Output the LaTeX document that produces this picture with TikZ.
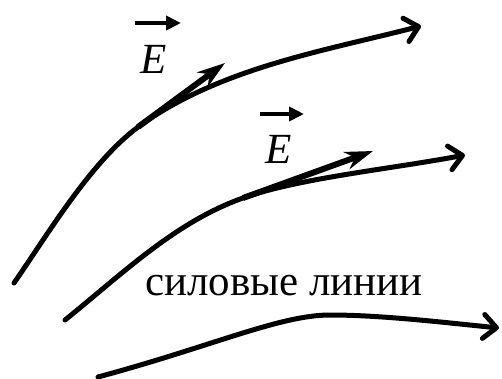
\documentclass[tikz,border=0pt]{standalone}
\usepackage{fontspec}
\setmainfont{Liberation Serif}
\usetikzlibrary{arrows.meta, calc}

\begin{document}
\begin{tikzpicture}[
    x=1pt, y=-1pt,
    fieldline/.style={line width=5pt, line cap=round, -{Straight Barb[length=13pt, width=24pt, round]}},
    tangent/.style={line width=6pt, -{Stealth[length=28pt, width=18pt, inset=9pt]}},
    overarr/.style={line width=4.6pt, -{Triangle[length=15pt, width=14pt]}},
    vlabel/.style={font=\fontsize{43}{48}\selectfont\itshape, inner sep=0pt, anchor=base},
    caption/.style={font=\fontsize{43}{48}\selectfont, inner sep=0pt, anchor=base}
]
    \useasboundingbox (0,0) rectangle (502,378);

    % Tangent points
    \coordinate (t1s) at (138,127);
    \coordinate (t1e) at (225,63);
    \coordinate (t2s) at (243,198);
    \coordinate (t2e) at (373,151);

    % Field lines
    \draw[fieldline] (14,283) .. controls (48,234) and (90,163) .. (t1s)
        .. controls (219,68) and (324,51) .. (421,26);
    \draw[fieldline] (65,320) .. controls (121,275) and (175,222) .. (t2s)
        .. controls (299,178) and (391,169) .. (465,155);
    \draw[fieldline] (98,377) .. controls (213,346) and (280,315) .. (330,315)
        .. controls (380,315) and (440,322) .. (499,328);

    % Tangent vectors
    \draw[tangent] (t1s) -- (t1e);
    \draw[tangent] (t2s) -- (t2e);

    % Vector labels
    \node[vlabel] (E1) at (154,73) {E};
    \node[vlabel] (E2) at (279,163) {E};
    \draw[overarr] ($(E1.base)+(-19,-50)$) -- ++(46,0);
    \draw[overarr] ($(E2.base)+(-19,-49)$) -- ++(44,0);

    % Caption
    \node[caption] (cap) at (284,295) {силовые линии};
\end{tikzpicture}
\end{document}
